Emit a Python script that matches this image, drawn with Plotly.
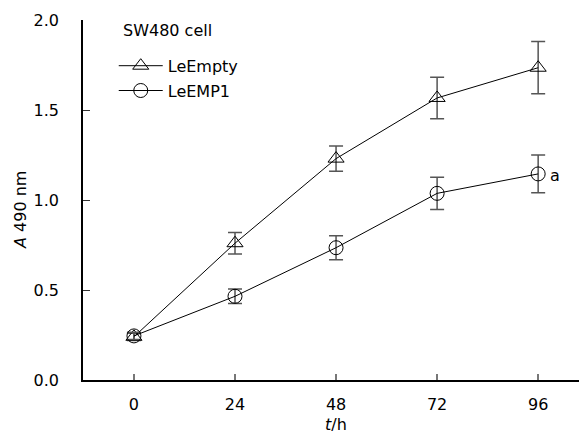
import plotly.graph_objects as go

# Data
hours = [0, 24, 48, 72, 96]
le_empty = [0.24, 0.76, 1.23, 1.567, 1.735]
le_empty_err = [0.02, 0.06, 0.07, 0.115, 0.145]
le_emp1 = [0.245, 0.465, 0.735, 1.037, 1.145]
le_emp1_err = [0.02, 0.04, 0.067, 0.09, 0.105]
x_ticks = [0, 24, 48, 72, 96]
y_ticks = [0.0, 0.5, 1.0, 1.5, 2.0]

FONT = "DejaVu Sans"
FS = 16
fig = go.Figure()

fig.add_trace(go.Scatter(
    x=hours, y=le_empty, name="LeEmpty", mode="lines+markers",
    legendgroup="g1",
    line=dict(color="black", width=1),
    marker=dict(symbol="triangle-up-open", size=14, color="black", line=dict(width=1, color="black")),
    error_y=dict(type="data", array=le_empty_err, visible=True, color="#555555", thickness=1.5, width=7),
))
fig.add_trace(go.Scatter(
    x=hours, y=le_emp1, name="LeEMP1", mode="lines+markers",
    legendgroup="g2",
    line=dict(color="black", width=1),
    marker=dict(symbol="circle-open", size=14, color="black", line=dict(width=1, color="black")),
    error_y=dict(type="data", array=le_emp1_err, visible=True, color="#555555", thickness=1.5, width=7),
))

# page body has an 8px margin, so the figure is shrunk by 8px and plotted from (8, 8)
fig.update_layout(
    width=579, height=426,
    margin=dict(l=75, r=0, t=12, b=54),
    paper_bgcolor="white", plot_bgcolor="white",
    font=dict(family=FONT, size=FS, color="black"),
    showlegend=True,
    legend=dict(x=0.061, y=0.92, xanchor="left", yanchor="top",
                bgcolor="rgba(0,0,0,0)", tracegroupgap=1, itemwidth=44,
                font=dict(family=FONT, size=FS, color="black")),
    xaxis=dict(range=[-12.1, 107.6], tickvals=x_ticks, ticktext=[str(v) for v in x_ticks],
               showgrid=False, zeroline=False, showline=True, linecolor="black", linewidth=1.5,
               ticks="inside", ticklen=6, tickcolor="#777777", tickwidth=1.5,
               ticklabelstandoff=9),
    yaxis=dict(range=[0, 2.0001], tickvals=y_ticks, ticktext=[f"{v:.1f}" for v in y_ticks],
               showgrid=False, zeroline=False, showline=True, linecolor="black", linewidth=1.5,
               ticks="inside", ticklen=7, tickcolor="#333333", tickwidth=1.2,
               ticklabelstandoff=19),
    annotations=[
        dict(text="SW480 cell", xref="paper", yref="paper", x=(121 - 83) / 504, y=(380 - 30) / 360,
             xanchor="left", yanchor="middle", showarrow=False, font=dict(family=FONT, size=FS)),
        dict(text="<i>A</i> 490 nm", xref="paper", yref="paper", x=(20 - 83) / 504, y=(380 - 210) / 360,
             xanchor="center", yanchor="middle", textangle=-90, showarrow=False,
             font=dict(family=FONT, size=FS)),
        dict(text="<i>t</i>/h", xref="paper", yref="paper", x=(336 - 83) / 504, y=(380 - 424) / 360,
             xanchor="center", yanchor="middle", showarrow=False, font=dict(family=FONT, size=FS)),
        dict(text="a", xref="x", yref="y", x=hours[-1], y=le_emp1[-1], xshift=17, yshift=-2,
             xanchor="center", yanchor="middle", showarrow=False, font=dict(family=FONT, size=FS)),
    ],
)

fig.write_html("out.html")
